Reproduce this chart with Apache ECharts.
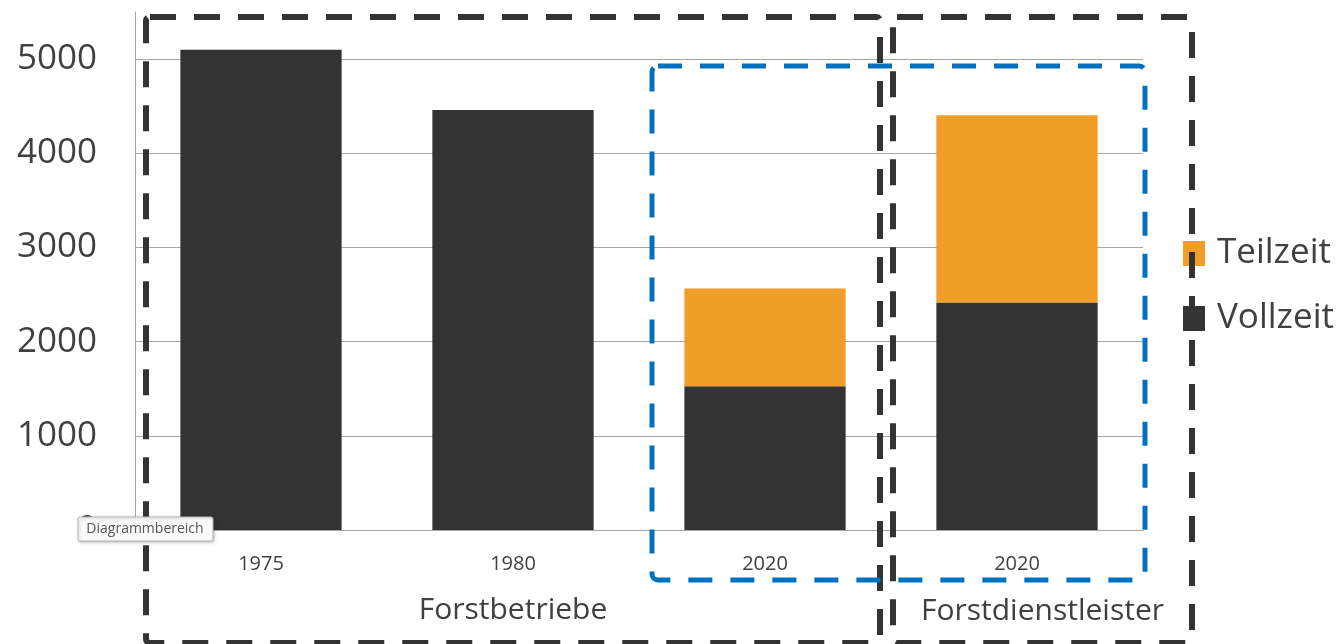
<!DOCTYPE html>
<html><head><meta charset="utf-8">
<script src="https://cdn.jsdelivr.net/npm/echarts@6/dist/echarts.min.js"></script>
<style>html,body{margin:0;padding:0;background:#fff}#c{width:1344px;height:644px}</style>
</head><body><div id="c"></div>
<script>
const categories = ['1975', '1980', '2020', '2020'];
const vollzeit = [5100, 4460, 1525, 2415];
const teilzeit = [null, null, 1040, 1990];
const groups = ['Forstbetriebe', 'Forstdienstleister'];
const yTicks = [0, 1000, 2000, 3000, 4000, 5000];
const legendNames = ['Teilzeit', 'Vollzeit'];
const tipText = 'Diagrammbereich';

const FONT = "'Open Sans', 'Noto Sans', sans-serif";
const TXT = '#404040';
const GRIDC = '#A6A6A6';

const chart = echarts.init(document.getElementById('c'), null, {renderer: 'canvas'});

// decoration boxes (annotation frames)
const box1 = {x: 146, y: 17, width: 734, height: 626};
const box2 = {x: 893, y: 17, width: 299, height: 626};
const boxBlue = {x: 652, y: 66, width: 493, height: 514};

chart.setOption({
  animation: false,
  backgroundColor: '#fff',
  textStyle: {fontFamily: FONT},
  grid: {left: 135, right: 201, top: 12, bottom: 114, containLabel: false},
  legend: {
    data: legendNames,
    orient: 'vertical',
    left: 1183,
    top: 233,
    padding: 0,
    icon: 'rect',
    itemWidth: 22,
    itemHeight: 25,
    itemGap: 24,
    textStyle: {fontSize: 35, color: TXT, fontFamily: FONT, lineHeight: 41, padding: [0, 0, 0, 7]}
  },
  xAxis: {
    type: 'category',
    data: categories,
    axisLine: {show: true, lineStyle: {color: GRIDC, width: 1}},
    axisTick: {show: false},
    axisLabel: {fontSize: 20, color: TXT, margin: 24, fontFamily: FONT}
  },
  yAxis: {
    type: 'value',
    min: 0,
    max: 5500,
    interval: 1000,
    axisLine: {show: true, lineStyle: {color: GRIDC, width: 1}},
    axisTick: {show: false},
    axisLabel: {
      fontSize: 35, color: TXT, margin: 38, fontFamily: FONT, showMaxLabel: false,
      formatter: v => yTicks.includes(v) ? String(v) : ''
    },
    splitLine: {show: true, showMaxLine: false, lineStyle: {color: GRIDC, width: 1}}
  },
  series: [
    {name: 'Vollzeit', type: 'bar', stack: 'a', barWidth: '64%', data: vollzeit,
     itemStyle: {color: '#333333'}},
    {name: 'Teilzeit', type: 'bar', stack: 'a', barWidth: '64%', data: teilzeit,
     itemStyle: {color: '#F09E27'}}
  ],
  graphic: [
    {type: 'rect', z: 100, shape: Object.assign({r: 4}, box1),
     style: {fill: null, stroke: '#333', lineWidth: 6, lineDash: [26, 18]}},
    {type: 'rect', z: 100, shape: Object.assign({r: 4}, box2),
     style: {fill: null, stroke: '#333', lineWidth: 6, lineDash: [26, 18]}},
    {type: 'rect', z: 101, shape: Object.assign({r: 6}, boxBlue),
     style: {fill: null, stroke: '#0070C0', lineWidth: 5, lineDash: [24, 18]}},
    {type: 'text', z: 102, x: 513, y: 610,
     style: {text: groups[0], fontSize: 30, fill: TXT, fontFamily: FONT, align: 'center', verticalAlign: 'middle'}},
    {type: 'text', z: 102, x: box2.x + box2.width / 2, y: 611,
     style: {text: groups[1], fontSize: 30, fill: TXT, fontFamily: FONT, align: 'center', verticalAlign: 'middle'}},
    {type: 'rect', z: 110, shape: {x: 78, y: 517, width: 135, height: 24, r: 2},
     style: {fill: '#FAFAFA', stroke: '#B8B8B8', lineWidth: 1, shadowBlur: 3, shadowColor: 'rgba(0,0,0,0.25)', shadowOffsetX: 1, shadowOffsetY: 1}},
    {type: 'text', z: 111, x: 145, y: 529,
     style: {text: tipText, fontSize: 14, fill: '#555', fontFamily: FONT, align: 'center', verticalAlign: 'middle'}}
  ]
});
</script>
</body></html>
